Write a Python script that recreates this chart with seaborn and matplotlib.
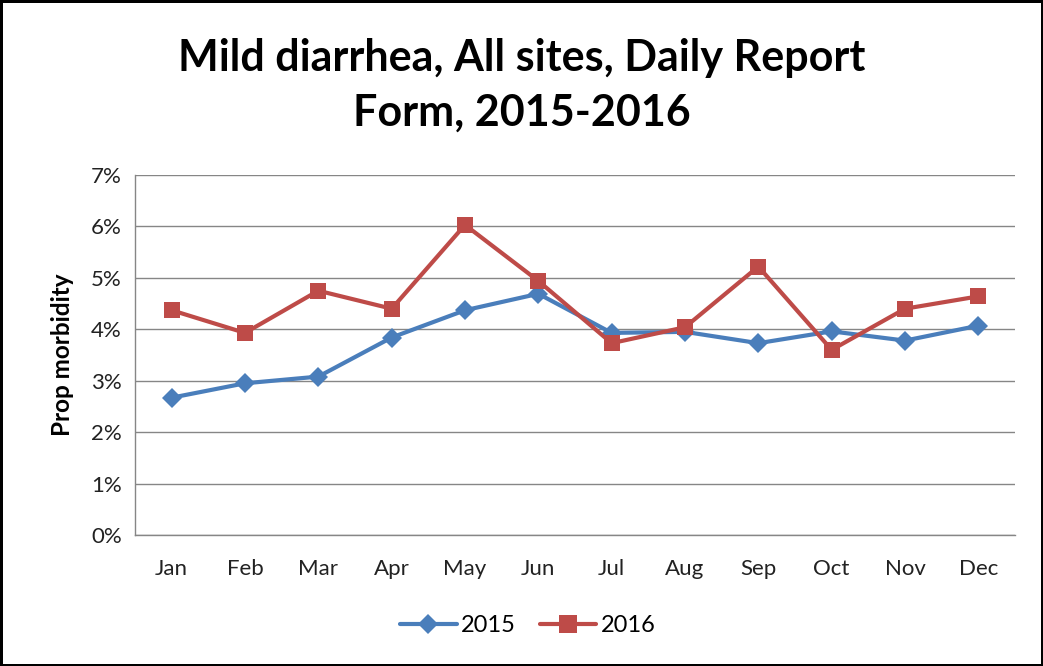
import pandas as pd
import matplotlib.pyplot as plt
import seaborn as sns
from matplotlib.ticker import PercentFormatter

# Data
months = ["Jan", "Feb", "Mar", "Apr", "May", "Jun",
          "Jul", "Aug", "Sep", "Oct", "Nov", "Dec"]
prop_2015 = [2.67, 2.95, 3.08, 3.84, 4.37, 4.69, 3.93, 3.95, 3.73, 3.96, 3.78, 4.07]
prop_2016 = [4.37, 3.93, 4.75, 4.40, 6.03, 4.94, 3.73, 4.04, 5.22, 3.60, 4.40, 4.64]

df = pd.DataFrame({
    "month": months * 2,
    "x": list(range(12)) * 2,
    "value": prop_2015 + prop_2016,
    "year": ["2015"] * 12 + ["2016"] * 12,
})

sns.set_style("white")
plt.rcParams["font.family"] = ["Lato", "DejaVu Sans"]
plt.rcParams["text.color"] = "black"
plt.rcParams["axes.labelcolor"] = "black"
plt.rcParams["xtick.color"] = "black"
plt.rcParams["ytick.color"] = "black"

fig = plt.figure(figsize=(10.43, 6.66), dpi=100)
fig.patch.set_edgecolor("black")
fig.patch.set_linewidth(2.5)
ax = fig.add_axes([135 / 1043, 1 - 535 / 666, 880 / 1043, 360 / 666])

palette = {"2015": "#4A7EBB", "2016": "#BE4B48"}
sns.lineplot(data=df, x="x", y="value", hue="year", style="year",
             markers={"2015": "D", "2016": "s"}, dashes=False,
             palette=palette, linewidth=3, markersize=11,
             markeredgewidth=0, ax=ax)
for line in ax.lines:
    if line.get_marker() == "D":
        line.set_markersize(10)
    else:
        line.set_markersize(12)

ax.set_xlim(-0.5, 11.5)
ax.set_ylim(0, 7)
ax.set_yticks(range(0, 8))
ax.yaxis.set_major_formatter(PercentFormatter(decimals=0))
ax.set_xticks(range(12))
ax.set_xticklabels(months)
ax.set_xticks([i - 0.5 for i in range(13)], minor=True)
ax.tick_params(axis="x", which="major", length=0, labelsize=16, pad=17)
ax.tick_params(axis="x", which="minor", length=5, color="#868686", width=1)
ax.tick_params(axis="y", length=6.5, color="#868686", width=1, labelsize=16, pad=3)
for lbl in ax.get_xticklabels() + ax.get_yticklabels():
    lbl.set_color("#222222")
ax.grid(axis="y", color="#868686", linewidth=1)
ax.set_axisbelow(True)
for side in ["top", "right"]:
    ax.spines[side].set_visible(False)
for side in ["left", "bottom"]:
    ax.spines[side].set_color("#868686")
    ax.spines[side].set_linewidth(1)

ax.set_xlabel("")
ax.set_ylabel("Prop morbidity", fontsize=17.5, fontweight="bold", labelpad=12)
fig.text(0.5, 1 - 85 / 666, "Mild diarrhea, All sites, Daily Report\nForm, 2015-2016",
         ha="center", va="center", fontsize=31, fontweight="bold",
         linespacing=1.45, color="black")

handles, labels = ax.get_legend_handles_labels()
ax.get_legend().remove()
for h in handles:
    if h.get_marker() == "D":
        h.set_markersize(10)
    else:
        h.set_markersize(13)
fig.legend(handles, labels, loc="center", bbox_to_anchor=(528 / 1043, 1 - 626 / 666),
           ncol=2, frameon=False, fontsize=17, handlelength=2.4,
           columnspacing=1.0, handletextpad=0.2)

fig.savefig("out.png", dpi=100, edgecolor=fig.get_edgecolor())
